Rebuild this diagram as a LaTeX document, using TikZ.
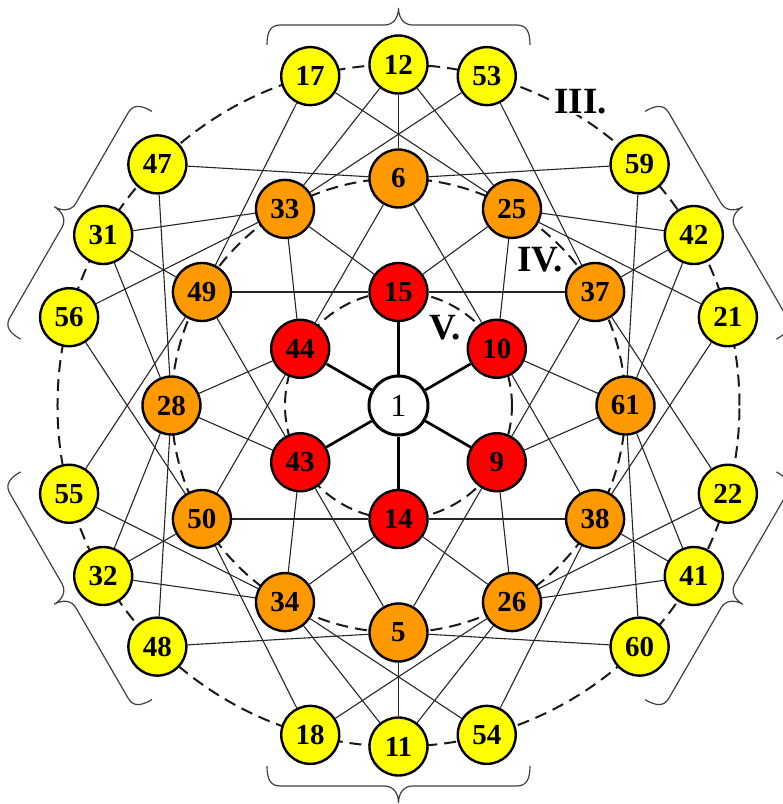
\documentclass[tikz,border=0pt]{standalone}
\usepackage{fontspec}
\setmainfont{Liberation Serif}
\definecolor{myred}{RGB}{255,0,0}
\definecolor{myorange}{RGB}{255,153,0}
\definecolor{myyellow}{RGB}{255,255,0}
\pgfdeclarelayer{bg}
\pgfsetlayers{bg,main}
\tikzset{
  vnode/.style={circle, draw=black, line width=2.4pt, minimum size=58pt, inner sep=0pt, font=\fontsize{29}{29}\selectfont\bfseries},
  rnode/.style={vnode, fill=myred},
  onode/.style={vnode, fill=myorange},
  ynode/.style={vnode, fill=myyellow},
  cnode/.style={vnode, fill=white, line width=3pt, minimum size=59pt, font=\fontsize{32}{32}\selectfont},
  link/.style={line width=1.1pt, black!85},
  spoke/.style={line width=2.7pt, black},
  dcirc/.style={dash pattern=on 12pt off 7pt, line width=2pt, black!90},
  bracestyle/.style={line width=1.2pt, black!75},
  lab/.style={font=\fontsize{37}{37}\selectfont\bfseries, inner sep=1pt}
}
\begin{document}
\begin{tikzpicture}[x=1pt,y=1pt]
\useasboundingbox (-398.5,-398.5) rectangle (384.5,405.5);
% nodes
\node[cnode] (n1) at (0,0) {1};
\foreach \lab [count=\i from 0] in {15,10,9,14,43,44}
  \node[rnode] (r\i) at ({90-60*\i}:113.5) {\lab};
\foreach \lab [count=\i from 0] in {6,37,38,5,50,49}
  \node[onode] (p\i) at ({90-60*\i}:227) {\lab};
\foreach \lab [count=\i from 0] in {25,61,26,34,28,33}
  \node[onode] (q\i) at ({60-60*\i}:227) {\lab};
\foreach \lab [count=\i from 0] in {17,59,22,54,48,56}
  \node[ynode] (a\i) at ({105-60*\i}:341) {\lab};
\foreach \lab [count=\i from 0] in {12,42,41,11,32,31}
  \node[ynode] (b\i) at ({90-60*\i}:341) {\lab};
\foreach \lab [count=\i from 0] in {53,21,60,18,55,47}
  \node[ynode] (c\i) at ({75-60*\i}:341) {\lab};
% background: circles, braces, connectors
\begin{pgfonlayer}{bg}
  \draw[dcirc] (0,0) circle (341);
  \draw[dcirc] (0,0) circle (227);
  \draw[dcirc] (0,0) circle (113.5);
  \foreach \k in {0,...,5}{
    \draw[bracestyle, rotate=-60*\k]
      (-131.5,360.5) .. controls (-131.5,374) and (-128,380.5) .. (-118,380.5)
      -- (-14,380.5) .. controls (-5,380.5) and (0,388) .. (0,397.5)
      .. controls (0,388) and (5,380.5) .. (14,380.5)
      -- (118,380.5) .. controls (128,380.5) and (131.5,374) .. (131.5,360.5);
  }
  \foreach \k in {0,...,5}{
    \pgfmathtruncatemacro\km{mod(\k+5,6)}
    \pgfmathtruncatemacro\kp{mod(\k+1,6)}
    \draw[spoke] (n1) -- (r\k);
    \draw[link] (r\k) -- (q\km);
    \draw[link] (r\k) -- (q\k);
    \draw[link] (r\k) -- (p\km);
    \draw[link] (r\k) -- (p\kp);
    \draw[link] (p\k) -- (b\k);
    \draw[link] (p\k) -- (c\km);
    \draw[link] (p\k) -- (a\kp);
    \draw[link] (q\k) -- (a\k);
    \draw[link] (q\k) -- (b\k);
    \draw[link] (q\k) -- (b\kp);
    \draw[link] (q\k) -- (c\kp);
  }
\end{pgfonlayer}
% ring labels
\node[lab, fill=white] (l3) at (182,303.5) {III.};
\node[lab] (l4) at (141.5,145.5) {IV.};
\node[lab] (l5) at (47,78) {V.};
\end{tikzpicture}
\end{document}
